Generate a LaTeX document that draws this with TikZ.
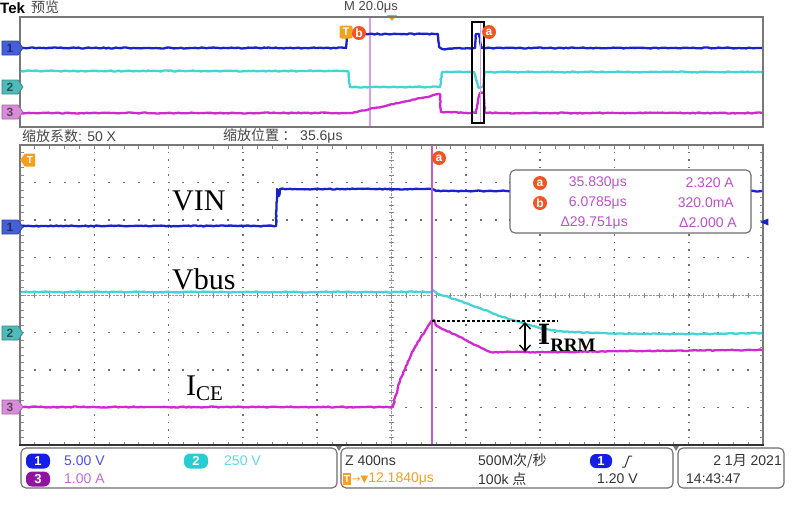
\documentclass[tikz,border=0pt]{standalone}
\usepackage{fontspec}
\setmainfont{Liberation Sans}
\newfontfamily\cjk{Noto Sans CJK SC}
\newfontfamily\tms{Liberation Serif}
\newfontfamily\djv{DejaVu Sans}
\usetikzlibrary{shapes.symbols,shapes.geometric,arrows.meta,decorations.pathmorphing}
\newcommand{\myfs}[1]{\fontsize{#1}{#1}\selectfont}
\definecolor{tblue}{RGB}{25,35,205}
\definecolor{tcyan}{RGB}{70,210,215}
\definecolor{tmag}{RGB}{210,40,210}
\definecolor{cursor}{RGB}{200,90,210}
\definecolor{cursorlt}{RGB}{215,160,230}
\definecolor{torange}{RGB}{245,160,30}
\definecolor{tred}{RGB}{240,85,35}
\definecolor{frame}{RGB}{120,120,120}
\definecolor{gdot}{RGB}{110,110,110}
\definecolor{rdtxt}{RGB}{190,80,200}
\definecolor{txtgrey}{RGB}{70,70,70}
\definecolor{m1}{RGB}{70,95,215}
\definecolor{m2}{RGB}{80,185,185}
\definecolor{m3}{RGB}{215,140,215}
\definecolor{p1}{RGB}{20,30,230}
\definecolor{p2}{RGB}{40,205,210}
\definecolor{p3}{RGB}{145,20,160}
\definecolor{s1}{RGB}{80,80,225}
\definecolor{s2}{RGB}{100,215,225}
\definecolor{s3}{RGB}{195,110,210}
\pgfmathsetseed{7}
\begin{document}
\begin{tikzpicture}[x=1pt,y=-1pt,
  trace/.style={line width=2.3pt,line join=round,decorate,decoration={random steps,segment length=2.5pt,amplitude=0.5pt}},
  chm/.style={signal,signal to=east,signal pointer angle=110,draw=#1!75!black,line width=0.8pt,fill=#1,minimum width=21pt,minimum height=14pt,inner sep=0pt,font=\myfs{12}\bfseries,text=#1!45!black},
  rcirc/.style={circle,fill=tred,text=white,inner sep=0pt,minimum size=14pt,font=\myfs{12}\bfseries},
  pill/.style={rounded corners=6pt,fill=#1,text=white,minimum width=24pt,minimum height=15pt,inner sep=0pt,font=\myfs{13}\bfseries},
  sbox/.style={draw=frame!90!black,line width=1.1pt,rounded corners=5pt},
  sc/.style={font=\myfs{14},inner sep=0pt},
  griddot/.style={gdot,line width=1.6pt},
  tick/.style={gdot!80,line width=0.9pt},
  lbl/.style={inner sep=0pt,font=\tms\myfs{30}},
]
\fill[white] (0,0) rectangle (795,504);
\useasboundingbox (0,0) rectangle (795,504);

% header
\node[anchor=west,inner sep=0pt,font=\myfs{15}\bfseries] (tek) at (0,8) {Tek};
\node[anchor=west,inner sep=0pt,font=\cjk\myfs{14},text=txtgrey] (yl) at (31,7) {预览};
\node[inner sep=0pt,font=\myfs{13},text=txtgrey] (mt) at (371,7) {M 20.0μs};
\fill[torange] (387,15)--(397,15)--(392,21)--cycle;

% overview panel
\draw[frame,line width=1.5pt] (20,17) rectangle (763,127);
\draw[cursorlt,line width=1.5pt] (370,18)--(370,126);
\draw[tblue,trace] (21,48)--(346,48)--(347,34)--(438,34)--(439,47)--(442,49)--(475,48)--(476,34)--(479,34)--(481,48)--(762,48);
\draw[tcyan,trace] (21,71)--(348,71)--(350,87)--(440,87)--(442,72)--(474,72)--(477,82)--(479,88)--(483,87)--(485,72)--(762,72);
\draw[tmag,trace] (21,113)--(352,113)--(440,94)--(441,112)--(476,113)--(478,100)--(480,93)--(484,93)--(485,113)--(762,113);
\draw[black,line width=1.5pt] (472,22) rectangle (484,123);
\draw[cursorlt,line width=1pt] (480,23)--(480,122);
\node[fill=torange,rounded corners=2pt,text=white,font=\myfs{11}\bfseries,minimum width=13pt,minimum height=13pt,inner sep=0pt] (tt) at (346,32) {T};
\node[rcirc] (ob) at (359,33) {b};
\node[rcirc] (oa) at (489,32) {a};
\node[chm=m1] (o1) at (10,48) {1};
\node[chm=m2] (o2) at (10,87) {2};
\node[chm=m3] (o3) at (10,112) {3};

% zoom info
\node[anchor=west,inner sep=0pt,font=\myfs{14},text=txtgrey] (zf) at (22,136) {{\cjk 缩放系数}: 50 X};
\node[anchor=west,inner sep=0pt,font=\myfs{14},text=txtgrey] (zp) at (223,136) {{\cjk 缩放位置 ：} 35.6μs};

% main grid dots
\foreach \i in {1,2,3,4,6,7,8,9}
  \draw[griddot,dash pattern=on 1.6pt off 5.9pt] ({20+\i*74.3},151.7)--({20+\i*74.3},445);
\foreach \j in {1,2,3,5,6,7}
  \draw[griddot,dash pattern=on 2pt off 12.86pt] (33.86,{145+\j*37.5})--(763,{145+\j*37.5});
% center axes
\draw[gdot!70,line width=0.6pt,dash pattern=on 2.5pt off 1.2pt] (20,295)--(763,295);
\draw[gdot!70,line width=0.6pt,dash pattern=on 2.5pt off 1.2pt] (391.5,145)--(391.5,445);
\foreach \k in {1,...,49} {
  \draw[tick] ({20+\k*74.3/5},145)--++(0,3.5);
  \draw[tick] ({20+\k*74.3/5},445)--++(0,-3.5);
  \draw[tick] ({20+\k*74.3/5},292.5)--++(0,5);
}
\foreach \k in {1,...,39} {
  \draw[tick] (20,{145+\k*7.5})--++(3.5,0);
  \draw[tick] (763,{145+\k*7.5})--++(-3.5,0);
  \draw[tick] (389,{145+\k*7.5})--++(5,0);
}
\draw[frame,line width=1.5pt] (20,445)--(20,145)--(763,145)--(763,445);
\draw[black!80,line width=2.5pt] (19,445)--(764,445);

% main traces
\draw[tblue,trace] (21,226)--(276,226)--(277,189)--(279,196)--(280,189)--(432,189)--(436,191)--(762,191);
\draw[tcyan,trace] (21,292)--(432,292) plot[smooth] coordinates {(432,292) (445,296) (460,301) (480,308) (500,316) (520,322) (540,328) (560,331) (600,333) (680,334) (762,333)};
\draw[tmag,trace] (21,407)--(393,407) plot[smooth] coordinates {(393,407) (396,395) (400,381) (406,366) (413,351) (420,339) (427,328) (432,321) (436,325) (445,330) (460,337) (475,345) (488,351) (500,352) (560,352) (640,351) (762,350)};
\draw[cursor,line width=1.2pt] (432,146)--(432,444);
\node[rcirc] (ma) at (439,158) {a};
\node[signal,signal to=west,signal pointer angle=110,fill=torange,text=white,font=\myfs{10}\bfseries,minimum width=15pt,minimum height=13pt,inner sep=0pt] (mtrig) at (30,160) {T};
\node[isosceles triangle,shape border rotate=180,fill=tblue,minimum size=7pt,inner sep=0pt] (lvl) at (766,222) {};
\node[chm=m1] (c1) at (10,227) {1};
\node[chm=m2] (c2) at (10,333) {2};
\node[chm=m3] (c3) at (10,407) {3};

% labels
\node[lbl,anchor=west] (vin) at (172,201) {VIN};
\node[lbl,anchor=west] (vbus) at (172,279) {Vbus};
\node[lbl,anchor=west] (ice) at (186,388) {I\raisebox{-0.35ex}{\myfs{21}CE}};
\coordinate (pk) at (432,321);
\coordinate (dend) at (558,321);
\draw[black,line width=1.3pt,dash pattern=on 3pt off 2pt] (pk)--(dend);
\coordinate (aup) at (525,322);
\coordinate (adn) at (525,352);
\draw[black,line width=1.4pt,{Straight Barb[length=6pt,width=11pt]}-{Straight Barb[length=6pt,width=11pt]}] (aup)--(adn);
\node[inner sep=0pt,anchor=west,font=\tms\bfseries\myfs{31}] (irrm) at (538,338) {I\raisebox{-0.45ex}{\myfs{19}RRM}};

% readout
\draw[sbox,fill=white] (510,170) rectangle (751,233);
\node[rcirc] (ra) at (540,183) {a};
\node[rcirc] (rb) at (540,203) {b};
\node[sc,anchor=east,text=rdtxt] (t1) at (627,183) {35.830μs};
\node[sc,anchor=east,text=rdtxt] (t2) at (627,203) {6.0785μs};
\node[sc,anchor=east,text=rdtxt] (t3) at (628,223) {Δ29.751μs};
\node[sc,anchor=east,text=rdtxt] (v1) at (734,183) {2.320 A};
\node[sc,anchor=east,text=rdtxt] (v2) at (734,203) {320.0mA};
\node[sc,anchor=east,text=rdtxt] (v3) at (737,223) {Δ2.000 A};

% status bar
\draw[sbox] (21,448) rectangle (337,488);
\draw[sbox] (341,448) rectangle (673,488);
\draw[sbox] (678,448) rectangle (784,488);
\fill[frame] (336,446)--(342,446)--(339,451)--cycle;
\fill[frame] (673,446)--(679,446)--(676,451)--cycle;
\node[pill=p1] (b1) at (38,461) {1};
\node[sc,anchor=west,text=s1] (b1t) at (64,461) {5.00 V};
\node[pill=p2] (b2) at (196,461) {2};
\node[sc,anchor=west,text=s2] (b2t) at (224,461) {250 V};
\node[pill=p3] (b3) at (38,479) {3};
\node[sc,anchor=west,text=s3] (b3t) at (64,479) {1.00 A};
\node[sc,anchor=west,text=black!80] (zz) at (345,461) {Z 400ns};
\node[fill=torange,text=white,font=\myfs{10}\bfseries,minimum width=8pt,minimum height=12pt,inner sep=0pt] (tb) at (347,479) {T};
\node[sc,anchor=west,text=torange] (tpos) at (352,479) {{\djv\myfs{10}→▼}12.1840μs};
\node[sc,anchor=west,text=black!80] (sr) at (478,461) {500M{\cjk 次/秒}};
\node[sc,anchor=west,text=black!80] (pts) at (478,479) {100k {\cjk 点}};
\node[pill=p1,minimum width=22pt,minimum height=14pt] (tr1) at (601,461) {1};
\draw[black!80,line width=1pt] (622,467)--(625,467)--(629,456)--(632,456);
\node[sc,anchor=west,text=black!80] (tlv) at (597,479) {1.20 V};
\node[sc,anchor=east,text=black!80] (dt) at (782,461) {2 1{\cjk 月} 2021};
\node[sc,anchor=west,text=black!80] (tm) at (686,479) {14:43:47};
\end{tikzpicture}
\end{document}
